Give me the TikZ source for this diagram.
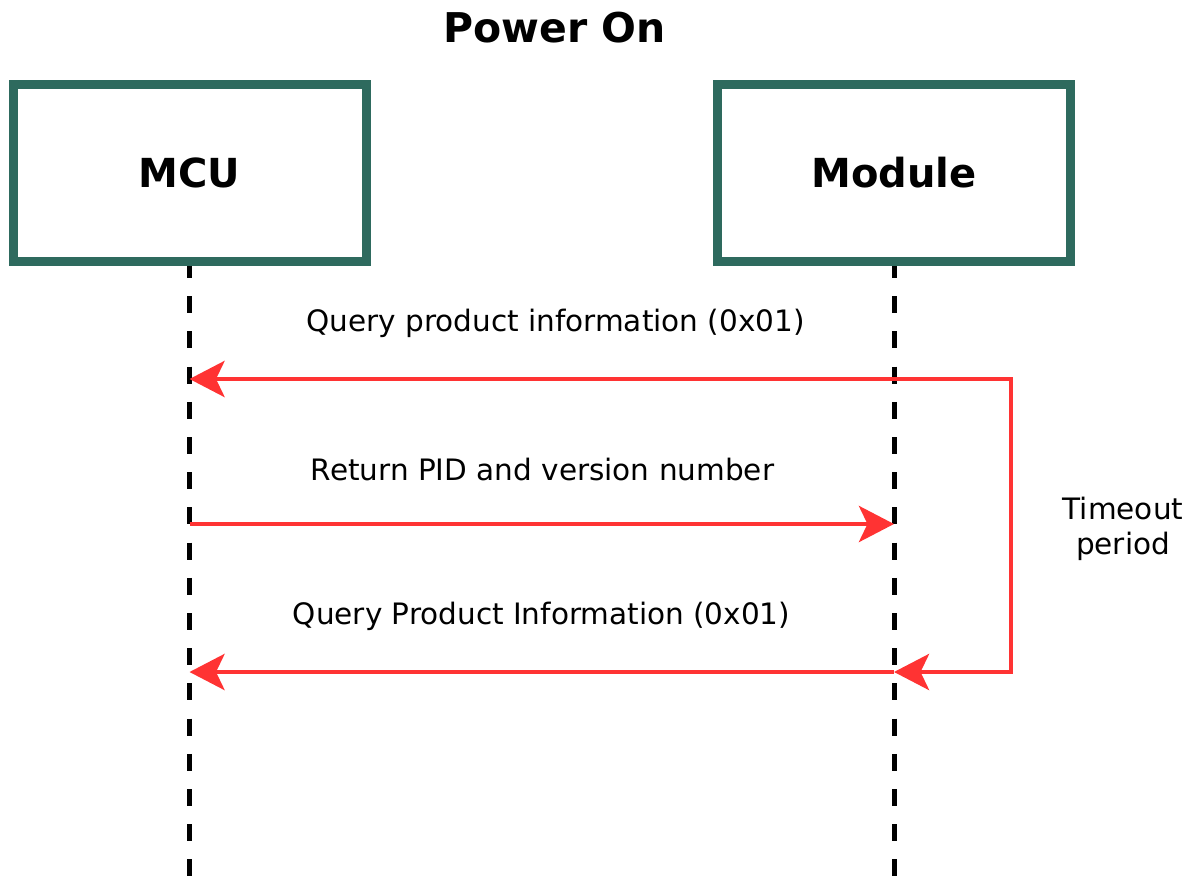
\documentclass[tikz,border=0pt]{standalone}
\usepackage{fontspec}
\setmainfont{DejaVu Sans}
\usetikzlibrary{arrows.meta}
\definecolor{boxteal}{HTML}{2E6A5E}
\definecolor{msgred}{HTML}{FF3333}
\begin{document}
\begin{tikzpicture}[x=1pt,y=-1pt,
  actor/.style={draw=boxteal, line width=9pt, minimum width=353pt, minimum height=176.5pt,
     inner sep=0pt, font=\fontsize{40}{48}\selectfont\bfseries},
  titletext/.style={inner sep=0pt, font=\fontsize{41}{49}\selectfont\bfseries},
  msglabel/.style={inner sep=0pt, font=\fontsize{29.5}{35}\selectfont},
  lifeline/.style={line width=5pt, dash pattern=on 17pt off 18.2pt},
  tipstyle/.style={},
  msg/.style={draw=msgred, line width=4.8pt, line join=miter,
     -{Stealth[length=35pt, width=36pt, inset=8.5pt]}},
  msgboth/.style={draw=msgred, line width=4.8pt, line join=miter,
     {Stealth[length=35pt, width=36pt, inset=8.5pt]}-{Stealth[length=35pt, width=36pt, inset=8.5pt]}}
]
\useasboundingbox (0,0) rectangle (1194,878);

% lifeline coordinates
\coordinate (mcuTop) at (189.5,261);
\coordinate (mcuEnd) at (189.5,878);
\coordinate (modTop) at (894,261);
\coordinate (modEnd) at (894,878);

\draw[lifeline] (mcuTop) -- (mcuEnd);
\draw[lifeline] (modTop) -- (modEnd);

\node[titletext] (title) at (554.5,28) {Power On};
\node[actor, fill=white] (mcu) at (189.5,172.75) {MCU};
\node[actor, fill=white] (module) at (894,173) {Module};

% message points
\coordinate (mcu1) at (189.5,379);
\coordinate (loopT) at (1011,379);
\coordinate (loopB) at (1011,672);
\coordinate (mod3) at (894,672);
\coordinate (mcu3) at (189.5,672);
\coordinate (mcu2) at (189.5,524);
\coordinate (mod2) at (894,524);

\draw[msgboth] (mod3) -- (loopB) -- (loopT) -- (mcu1);
\draw[msg] (mcu2) -- (mod2);
\draw[msg] (mod3) -- (mcu3);

\node[msglabel] (lbl1) at (555.5,323) {Query product information (0x01)};
\node[msglabel] (lbl2) at (542.5,469) {Return PID and version number};
\node[msglabel] (lbl3) at (541.5,616) {Query Product Information (0x01)};
\node[msglabel, align=center] (timeout) at (1123,529) {Timeout\\period};
\end{tikzpicture}
\end{document}
